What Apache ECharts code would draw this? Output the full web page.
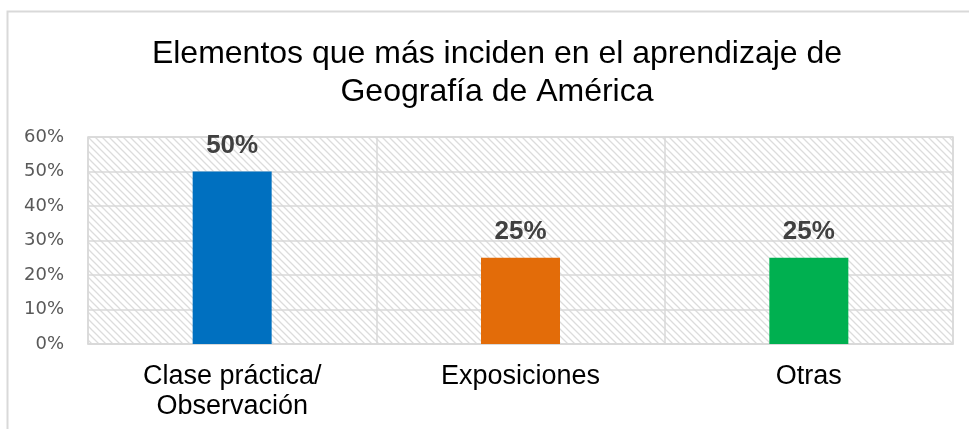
<!DOCTYPE html>
<html><head><meta charset="utf-8">
<script src="https://cdn.jsdelivr.net/npm/echarts@6/dist/echarts.min.js"></script>
<style>html,body{margin:0;padding:0;background:#fff}#c{width:969px;height:429px}</style>
</head><body><div id="c"></div>
<script>
const titleText = 'Elementos que más inciden en el aprendizaje de\nGeografía de América';
const categories = ['Clase práctica/\nObservación', 'Exposiciones', 'Otras'];
const values = [50, 25, 25];
const barColors = ['#0070c0', '#e36c09', '#00b050'];
const yTicks = [0, 10, 20, 30, 40, 50, 60];

const pc = document.createElement('canvas');
pc.width = 7; pc.height = 7;
const g = pc.getContext('2d');
g.fillStyle = '#fff'; g.fillRect(0,0,7,7);
g.strokeStyle = '#dcdcdc'; g.lineWidth = 1.3;
g.beginPath();
g.moveTo(-1,-1); g.lineTo(8,8);
g.moveTo(-8,-1); g.lineTo(1,8);
g.moveTo(6,-1); g.lineTo(15,8);
g.stroke();

const chart = echarts.init(document.getElementById('c'));
chart.setOption({
  animation: false,
  backgroundColor: '#fff',
  title: {
    text: titleText, top: 30, textAlign: 'center',
    left: 492,
    textStyle: {fontFamily: 'Liberation Sans', fontSize: 32, fontWeight: 'normal', color: '#000', lineHeight: 38}
  },
  graphic: [{type: 'rect', shape: {x: 7.5, y: 11.5, width: 1000, height: 500}, style: {fill: 'none', stroke: '#d9d9d9', lineWidth: 2}, silent: true}],
  grid: {left: 88, right: 16, top: 137, bottom: 85, show: true, borderColor: '#d9d9d9', borderWidth: 1.5,
    backgroundColor: {image: pc, repeat: 'repeat'}},
  xAxis: {
    type: 'category', data: categories,
    axisLine: {show: true, lineStyle: {color: '#d9d9d9', width: 1.5}},
    axisTick: {show: false},
    splitLine: {show: true, lineStyle: {color: '#d9d9d9', width: 1.5}},
    axisLabel: {fontFamily: 'Liberation Sans', fontSize: 27, color: '#000', margin: 18, lineHeight: 30}
  },
  yAxis: {
    type: 'value', min: 0, max: 60, interval: 10,
    axisLine: {show: false}, axisTick: {show: false},
    splitLine: {show: true, lineStyle: {color: '#d9d9d9', width: 1.5}},
    axisLabel: {fontFamily: 'DejaVu Sans', fontSize: 18, color: '#595959', margin: 24, formatter: v => v + '%'}
  },
  series: [{
    type: 'bar', barWidth: 79,
    data: values.map((v, i) => ({value: v, itemStyle: {color: barColors[i]}})),
    label: {show: true, position: 'top', distance: 13, formatter: p => p.value + '%',
      fontFamily: 'Liberation Sans', fontSize: 26, fontWeight: 'bold', color: '#404040'}
  }]
});
</script></body></html>
